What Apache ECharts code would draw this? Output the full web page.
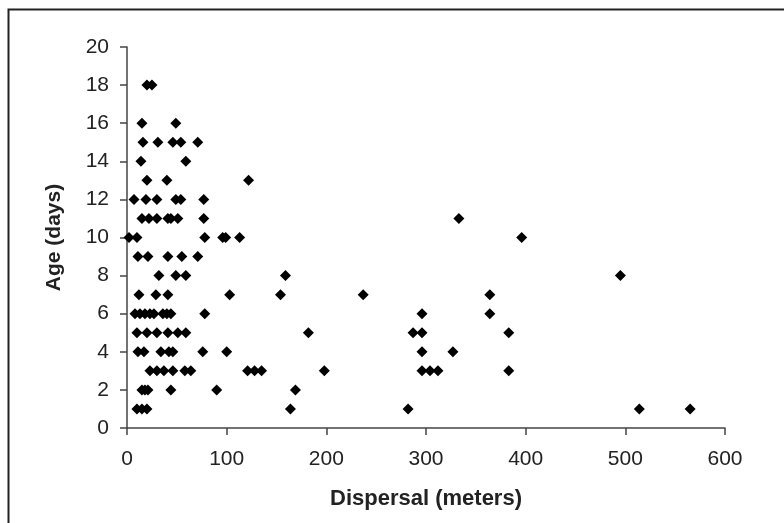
<!DOCTYPE html>
<html>
<head>
<meta charset="utf-8">
<script src="https://cdn.jsdelivr.net/npm/echarts@6/dist/echarts.min.js"></script>
<style>
  html, body { margin: 0; padding: 0; background: #fff; }
  #main { width: 784px; height: 523px; }
</style>
</head>
<body>
<div id="main"></div>
<script>
// dispersal (meters) and age (days)
var dispersal = [
  20, 25,
  15, 49,
  16, 31, 46, 54, 71,
  14, 59,
  20, 40, 122,
  7, 19, 30, 49, 54, 77,
  15, 22, 30, 41, 44, 51, 77, 333,
  2, 10, 78, 96, 99, 113, 396,
  11, 21, 41, 55, 71,
  32, 49, 59, 159, 495,
  12, 29, 41, 103, 154, 237, 364,
  8, 13, 18, 23, 27, 36, 40, 44, 78, 296, 364,
  10, 20, 30, 41, 51, 59, 182, 287, 296, 383,
  11, 17, 34, 42, 46, 76, 100, 296, 327,
  23, 30, 37, 46, 58, 64, 121, 128, 135, 198, 296, 304, 312, 383,
  15, 18, 21, 44, 90, 169,
  10, 15, 20, 164, 282, 514, 565
];
var age = [
  18, 18,
  16, 16,
  15, 15, 15, 15, 15,
  14, 14,
  13, 13, 13,
  12, 12, 12, 12, 12, 12,
  11, 11, 11, 11, 11, 11, 11, 11,
  10, 10, 10, 10, 10, 10, 10,
  9, 9, 9, 9, 9,
  8, 8, 8, 8, 8,
  7, 7, 7, 7, 7, 7, 7,
  6, 6, 6, 6, 6, 6, 6, 6, 6, 6, 6,
  5, 5, 5, 5, 5, 5, 5, 5, 5, 5,
  4, 4, 4, 4, 4, 4, 4, 4, 4,
  3, 3, 3, 3, 3, 3, 3, 3, 3, 3, 3, 3, 3, 3,
  2, 2, 2, 2, 2, 2,
  1, 1, 1, 1, 1, 1, 1
];

var points = dispersal.map(function (d, i) { return [d, age[i]]; });

var chart = echarts.init(document.getElementById('main'));
var axisColor = '#444';
var font = 'Liberation Sans, Arial, sans-serif';

chart.setOption({
  animation: false,
  backgroundColor: '#fff',
  graphic: [{
    type: 'rect',
    shape: { x: 8.5, y: 9.5, width: 900, height: 700 },
    style: { fill: 'none', stroke: '#222', lineWidth: 2 },
    silent: true
  }],
  grid: { left: 127, right: 59, top: 47, bottom: 95 },
  xAxis: {
    type: 'value',
    min: 0, max: 600, interval: 100,
    name: 'Dispersal (meters)',
    nameLocation: 'middle',
    nameGap: 60,
    nameTextStyle: { fontFamily: font, fontSize: 22, fontWeight: 'bold', color: '#222' },
    axisLine: { show: true, lineStyle: { color: axisColor, width: 1.5 } },
    axisTick: { show: true, length: 7, lineStyle: { color: axisColor, width: 1.5 } },
    axisLabel: { fontFamily: font, fontSize: 21, color: '#222', margin: 21 },
    splitLine: { show: false }
  },
  yAxis: {
    type: 'value',
    min: 0, max: 20, interval: 2,
    name: 'Age (days)',
    nameLocation: 'middle',
    nameGap: 62,
    nameTextStyle: { fontFamily: font, fontSize: 21, fontWeight: 'bold', color: '#222' },
    axisLine: { show: true, lineStyle: { color: axisColor, width: 1.5 } },
    axisTick: { show: true, length: 7, lineStyle: { color: axisColor, width: 1.5 } },
    axisLabel: { fontFamily: font, fontSize: 21, color: '#222', margin: 18 },
    splitLine: { show: false }
  },
  series: [{
    type: 'scatter',
    data: points,
    symbol: 'diamond',
    symbolSize: [11, 11],
    itemStyle: { color: '#000', opacity: 1 }
  }]
});
</script>
</body>
</html>
